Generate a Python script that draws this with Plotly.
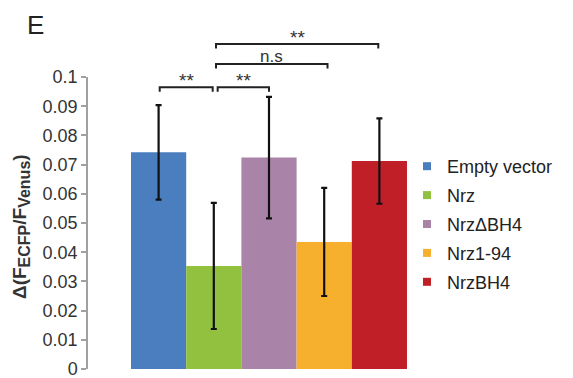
import plotly.graph_objects as go

# ---- data ----
categories = ["Empty vector", "Nrz", "Nrz\u0394BH4", "Nrz1-94", "NrzBH4"]
values = [0.0742, 0.0353, 0.0724, 0.0435, 0.0712]
errors = [0.0162, 0.0216, 0.0208, 0.0185, 0.0146]
tick_vals = [0, 0.01, 0.02, 0.03, 0.04, 0.05, 0.06, 0.07, 0.08, 0.09, 0.1]
tick_text = ["0", "0.01", "0.02", "0.03", "0.04", "0.05", "0.06", "0.07", "0.08", "0.09", "0.1"]
# significance comparisons: (bar a, bar b, label)
comparisons = [(0, 1, "**"), (1, 2, "**"), (1, 3, "n.s"), (1, 4, "**")]

# ---- style ----
colors = ["#4a7ebf", "#92c13f", "#a984a8", "#f7b02e", "#c11f28"]
W, H = 573, 378
ML, MR, MT, MB = 88, 124, 77, 9
PH = H - MT - MB
PW = W - ML - MR
FONT = "Liberation Sans, Arial, sans-serif"

def py(pix):
    return (H - MB - pix) / PH

def px(pix):
    return (pix - ML) / PW

# bracket styling: (bar y px, x nudge left, x nudge right, label bottom y px, label size)
bracket_style = [
    (87.3, 0.02, -0.02, 93.0, 19),
    (87.3, 0.07, 0.0, 93.0, 19),
    (64.0, 0.04, 0.06, 67.5, 17),
    (44.0, 0.04, -0.02, 49.5, 19),
]
drop = 4.5

fig = go.Figure()
for i, (cat, v, e, c) in enumerate(zip(categories, values, errors, colors)):
    fig.add_trace(go.Bar(
        x=[i], y=[v], width=1.0, name=cat, marker=dict(color=c, line=dict(width=0)),
        error_y=dict(type="data", array=[e], color="#111111", thickness=2.2, width=3),
        showlegend=False,
    ))
    fig.add_trace(go.Scatter(
        x=[None], y=[None], mode="markers", name=cat, legendgroup=cat,
        marker=dict(symbol="square", size=8, color=c),
    ))

shapes = []
annotations = []
for (a, b, lab), (ypx, nl, nr, lypx, fs) in zip(comparisons, bracket_style):
    x0, x1 = a + nl, b + nr
    y = py(ypx)
    yd = py(ypx + drop)
    shapes.append(dict(type="path", xref="x", yref="paper",
                       path=f"M {x0},{yd} L {x0},{y} L {x1},{y} L {x1},{yd}",
                       line=dict(color="#222222", width=2)))
    annotations.append(dict(x=(x0 + x1) / 2, y=py(lypx), xref="x", yref="paper",
                            text=lab, showarrow=False, yanchor="bottom",
                            font=dict(family=FONT, size=fs, color="#333333")))

annotations.append(dict(x=px(36), y=py(25), xref="paper", yref="paper",
                        text="E", showarrow=False, xanchor="center", yanchor="middle",
                        font=dict(family=FONT, size=26, color="#222222")))
annotations.append(dict(x=px(21), y=py(227), xref="paper", yref="paper",
                        text="\u0394(F<sub><span style='font-size:16px'>ECFP</span></sub>/F<sub><span style='font-size:16px'>Venus</span></sub>)",
                        textangle=-90, showarrow=False, xanchor="center", yanchor="middle",
                        font=dict(family=FONT, size=19, color="#333333", weight="bold")))

fig.update_layout(
    width=W, height=H,
    margin=dict(l=ML, r=MR, t=MT, b=MB, autoexpand=False),
    paper_bgcolor="white", plot_bgcolor="white",
    shapes=shapes, annotations=annotations,
    showlegend=True,
    legend=dict(x=px(407), xanchor="left", y=py(148), yanchor="top",
                font=dict(family=FONT, size=18, color="#222222"),
                traceorder="grouped", tracegroupgap=2.5,
                bgcolor="rgba(0,0,0,0)", itemclick=False),
    xaxis=dict(range=[-1.279, 5.261], showticklabels=False, showgrid=False,
               zeroline=False, showline=False, ticks=""),
    yaxis=dict(range=[0, 0.1], tickvals=tick_vals, ticktext=tick_text,
               showgrid=False, zeroline=False, showline=True, linecolor="#a0a0a0",
               linewidth=1.5, ticks="outside", ticklen=5, tickcolor="#a0a0a0",
               tickwidth=1.5, ticklabeloverflow="allow",
               tickfont=dict(family=FONT, size=18, color="#333333")),
)

fig.write_html("out.html", config={"displayModeBar": False},
               post_script="document.body.style.margin='0px';document.body.style.overflow='hidden';")
